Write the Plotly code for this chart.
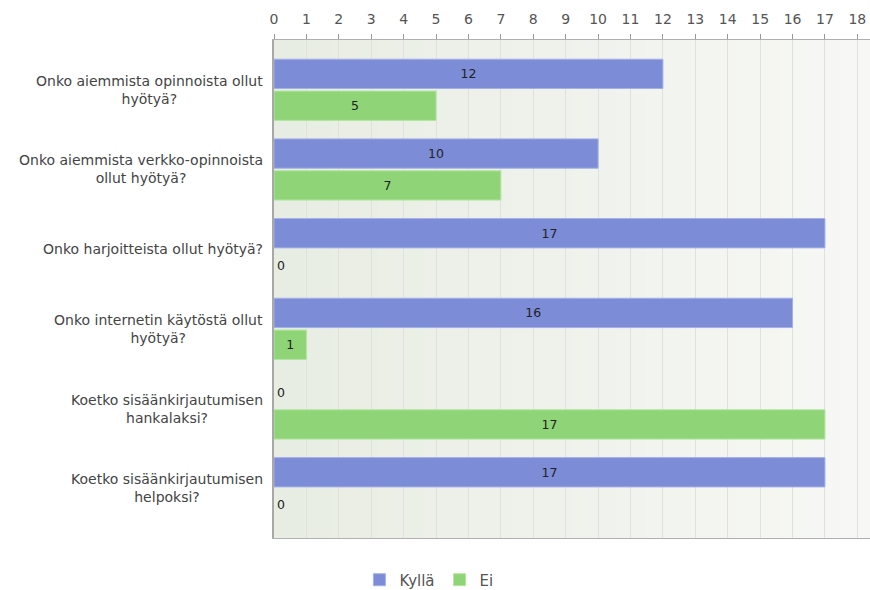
import plotly.graph_objects as go

# Survey questions (category axis) and answer counts per series
questions = [
    "Onko aiemmista opinnoista ollut<br>hyötyä?",
    "Onko aiemmista verkko-opinnoista<br>ollut hyötyä?",
    "Onko harjoitteista ollut hyötyä?",
    "Onko internetin käytöstä ollut<br>hyötyä?",
    "Koetko sisäänkirjautumisen<br>hankalaksi?",
    "Koetko sisäänkirjautumisen<br>helpoksi?",
]
kylla = [12, 10, 17, 16, 0, 17]
ei = [5, 7, 0, 1, 17, 0]

series_names = ["Kyllä", "Ei"]
series_colors = ["#7c8cd6", "#8fd577"]
series_edges = ["#a4b0e8", "#b2e6a0"]

FONT = "DejaVu Sans"

fig = go.Figure()
for name, vals, col, edge in zip(series_names, [kylla, ei], series_colors, series_edges):
    fig.add_trace(go.Bar(
        y=questions,
        x=vals,
        name=name,
        orientation="h",
        marker=dict(
            color=col,
            line=dict(color=edge, width=[0 if v == 0 else 1 for v in vals]),
        ),
        text=[str(v) for v in vals],
        textposition=["outside" if v == 0 else "inside" for v in vals],
        insidetextanchor="middle",
        textfont=dict(family=FONT, size=12.5, color="#222222"),
        cliponaxis=False,
        hoverinfo="x+name",
    ))

# soft left-to-right background gradient inside the plotting area
n_strips = 40
c0 = (232, 237, 227)
c1 = (247, 248, 245)
for i in range(n_strips):
    t = i / (n_strips - 1)
    r, g, b = (round(a + (bb - a) * t) for a, bb in zip(c0, c1))
    fig.add_shape(
        type="rect", xref="x domain", yref="y domain",
        x0=i / n_strips, x1=(i + 1) / n_strips + 0.002, y0=0, y1=1,
        fillcolor=f"rgb({r},{g},{b})", line=dict(width=0), layer="below",
    )

# question labels: right-aligned block, centred lines
for q in questions:
    fig.add_annotation(
        x=0, xref="paper", y=q, yref="y",
        text=q, showarrow=False, xanchor="right", yanchor="middle",
        xshift=-9, align="center",
        font=dict(family=FONT, size=14, color="#444444"),
    )

fig.update_layout(
    width=870, height=590,
    margin=dict(l=274, r=0, t=40, b=52, autoexpand=False),
    paper_bgcolor="white",
    plot_bgcolor="#eef1eb",
    barmode="group",
    bargap=0.2,
    bargroupgap=0.08,
    font=dict(family=FONT, size=12, color="#444444"),
    showlegend=True,
    legend=dict(
        orientation="h", xref="container", x=0.493, xanchor="center",
        yref="container", y=0.017, yanchor="middle",
        font=dict(family=FONT, size=15, color="#555555"),
        itemwidth=30,
    ),
    xaxis=dict(
        side="top", range=[0, 18.39], dtick=1, tick0=0,
        ticks="outside", ticklen=5, tickcolor="#9a9a9a",
        showline=True, linecolor="#b0b0b0", linewidth=1, mirror=True,
        showgrid=True, gridcolor="#dfe2dc", gridwidth=1,
        zeroline=False, ticklabelstandoff=4,
        tickfont=dict(family=FONT, size=14, color="#555555"),
    ),
    yaxis=dict(
        range=[5.625, -0.625],
        showticklabels=False, ticks="",
        showline=True, linecolor="#a8a8a8", linewidth=2,
        showgrid=False, zeroline=False,
    ),
)

fig.write_html("out.html")
